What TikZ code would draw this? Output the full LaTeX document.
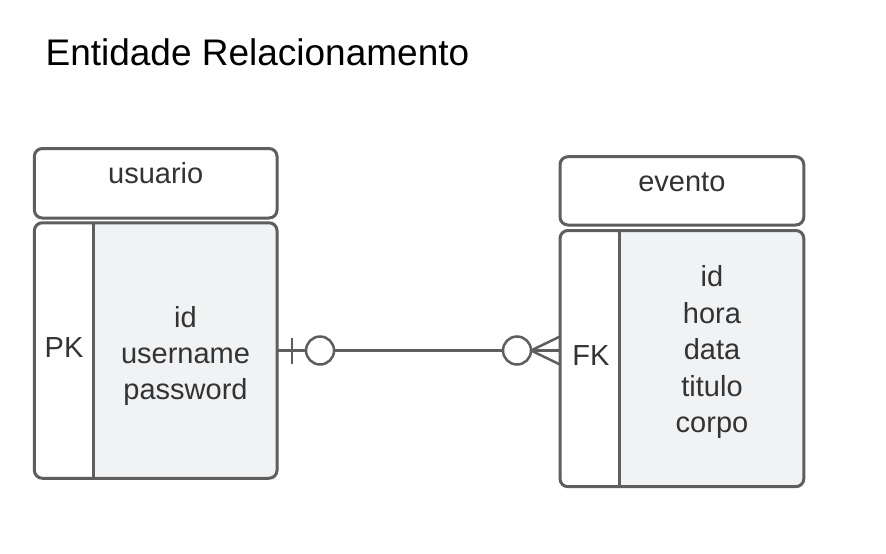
\documentclass[tikz,border=0pt]{standalone}
\usepackage{fontspec}
\setmainfont{Liberation Sans}
\usetikzlibrary{calc}
\definecolor{edge}{HTML}{5E5E5E}
\definecolor{bodyfill}{HTML}{F1F2F4}
\definecolor{txt}{HTML}{333333}
\begin{document}
\begin{tikzpicture}[x=1pt,y=-1pt,
  hdr/.style={draw=edge, line width=3pt, rounded corners=8pt, fill=white, outer sep=0pt, inner sep=0pt},
  bodybox/.style={draw=edge, line width=3pt, rounded corners=8pt, fill=bodyfill, outer sep=0pt, inner sep=0pt,
    path picture={\fill[white] (path picture bounding box.north west) rectangle ([xshift=59.5pt]path picture bounding box.south west);}},
  divider/.style={draw=edge, line width=3pt},
  lbl/.style={font=\fontsize{29}{36}\selectfont, text=txt, inner sep=0pt, anchor=base},
  conn/.style={draw=edge, line width=2.5pt},
]
\useasboundingbox (0,0) rectangle (886,554);

\node[font=\fontsize{37}{44}\selectfont, anchor=base west, inner sep=0pt] (title) at (45.4,65) {Entidade Relacionamento};

% usuario
\node[hdr, minimum width=242.7pt, minimum height=69.5pt] (uh) at (155.7,183.25) {};
\node[bodybox, minimum width=242.7pt, minimum height=255.5pt] (ub) at (155.7,350.5) {};
\draw[divider] ([xshift=59.5pt]ub.north west) -- ([xshift=59.5pt]ub.south west);
\node[lbl] (uhl) at (155.7,183.3) {usuario};
\node[lbl] (upk) at (64,357) {PK};
\node[lbl] (u1) at (185.5,327) {id};
\node[lbl] (u2) at (185.5,363) {username};
\node[lbl] (u3) at (185.5,399) {password};

% evento
\node[hdr, minimum width=243.8pt, minimum height=68.3pt] (eh) at (681.9,190.85) {};
\node[bodybox, minimum width=243.8pt, minimum height=256.2pt] (eb) at (681.9,358.6) {};
\draw[divider] ([xshift=59.5pt]eb.north west) -- ([xshift=59.5pt]eb.south west);
\node[lbl] (ehl) at (681.9,191.7) {evento};
\node[lbl] (efk) at (591,365) {FK};
\node[lbl] (e1) at (712,286.5) {id};
\node[lbl] (e2) at (712,323) {hora};
\node[lbl] (e3) at (712,359.5) {data};
\node[lbl] (e4) at (712,396) {titulo};
\node[lbl] (e5) at (712,432.5) {corpo};

% connector
\coordinate (er) at (ub.east -| eb.west);
\draw[conn] (ub.east) -- (er);
\draw[conn] ($(ub.east)+(15,-13)$) -- ($(ub.east)+(15,13)$);
\draw[conn, fill=white] ($(ub.east)+(43,0)$) circle[radius=14pt];
\draw[conn, fill=white] ($(er)+(-43,0)$) circle[radius=14pt];
\draw[conn] ($(er)+(-29,0)$) -- ($(er)+(0,-14)$);
\draw[conn] ($(er)+(-29,0)$) -- ($(er)+(0,14)$);
\end{tikzpicture}
\end{document}
